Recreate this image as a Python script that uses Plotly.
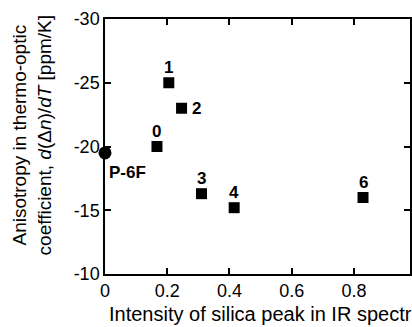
import plotly.graph_objects as go

# Data
ref_name = ["P-6F"]
ref_x = [0.0]
ref_y = [-19.5]

sample_names = ["0", "1", "2", "3", "4", "6"]
silica_intensity = [0.167, 0.205, 0.246, 0.31, 0.415, 0.829]
anisotropy = [-20.0, -25.0, -23.0, -16.3, -15.2, -16.0]

x_ticks = [0, 0.2, 0.4, 0.6, 0.8]
x_tick_text = ["0", "0.2", "0.4", "0.6", "0.8"]
y_ticks = [-30, -25, -20, -15, -10]
y_tick_text = ["-30", "-25", "-20", "-15", "-10"]

FONT = "Liberation Sans, Arial, Helvetica, sans-serif"

fig = go.Figure()
fig.add_trace(go.Scatter(
    x=silica_intensity, y=anisotropy, mode="markers",
    marker=dict(symbol="square", size=11, color="black"),
    cliponaxis=False, showlegend=False,
))
fig.add_trace(go.Scatter(
    x=ref_x, y=ref_y, mode="markers",
    marker=dict(symbol="circle", size=13, color="black"),
    cliponaxis=False, showlegend=False,
))

label_font = dict(family=FONT, size=17, color="black")
annotations = []
for name, xv, yv in zip(sample_names, silica_intensity, anisotropy):
    if name == "2":
        annotations.append(dict(x=xv, y=yv, text="<b>%s</b>" % name, showarrow=False,
                                xanchor="center", yanchor="middle", xshift=15, yshift=0,
                                font=label_font))
    else:
        annotations.append(dict(x=xv, y=yv, text="<b>%s</b>" % name, showarrow=False,
                                xanchor="center", yanchor="middle", xshift=0, yshift=15,
                                font=label_font))
for name, xv, yv in zip(ref_name, ref_x, ref_y):
    annotations.append(dict(x=xv, y=yv, text="<b>%s</b>" % name, showarrow=False,
                            xanchor="left", yanchor="middle", xshift=2, yshift=-20,
                            font=label_font))

axis_common = dict(
    showline=True, linecolor="black", linewidth=1.5, mirror="ticks",
    ticks="inside", ticklen=6, tickwidth=1.5, tickcolor="black",
    showgrid=False, zeroline=False,
    tickfont=dict(family=FONT, size=18, color="black"),
)

annotations += [
    dict(text="Intensity of silica peak in IR spectr", xref="paper", yref="paper",
         x=0.0065, y=-0.157, xanchor="left", yanchor="middle", showarrow=False,
         font=dict(family=FONT, size=20, color="black")),
    dict(text="Anisotropy in thermo-optic<br>coefficient, <i>d</i>(Δ<i>n</i>)/<i>dT</i> [ppm/K]",
         xref="paper", yref="paper", x=-0.238, y=0.545, xanchor="center", yanchor="middle",
         textangle=-90, showarrow=False,
         font=dict(family=FONT, size=19, color="black")),
]

fig.update_layout(
    width=412, height=327,
    margin=dict(l=105, r=0, t=19, b=53),
    paper_bgcolor="white", plot_bgcolor="white",
    font=dict(family=FONT, color="black"),
    xaxis=dict(range=[0, 0.98], tickvals=x_ticks, ticktext=x_tick_text, **axis_common),
    yaxis=dict(range=[-10, -30], tickvals=y_ticks, ticktext=y_tick_text, **axis_common),
    annotations=annotations,
)

fig.write_html("out.html")
